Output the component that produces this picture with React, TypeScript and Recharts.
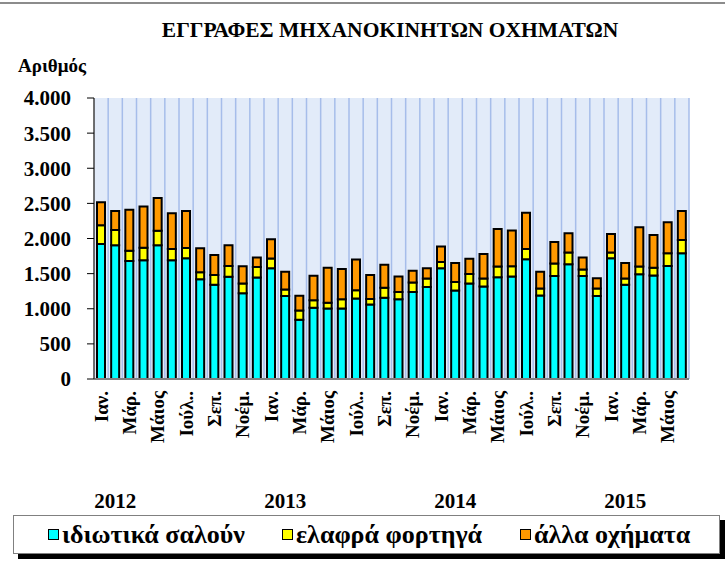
import { BarChart, Bar, XAxis, YAxis, CartesianGrid } from "recharts";

const months = ["Ιαν.", "Φεβ.", "Μάρ.", "Απρ.", "Μάιος", "Ιούν.", "Ιούλ..", "Αύγ.", "Σεπ.", "Οκτ.", "Νοέμ.", "Δεκ."];
const years = ["2012", "2013", "2014", "2015"];

// monthly registrations, Jan 2012 - Jun 2015
const saloons = [
  1920, 1905, 1680, 1690, 1905, 1690, 1720, 1420, 1340, 1455, 1220, 1445,
  1575, 1180, 845, 1015, 1005, 1005, 1145, 1060, 1155, 1135, 1240, 1310,
  1575, 1260, 1360, 1315, 1450, 1460, 1705, 1190, 1465, 1635, 1465, 1180,
  1720, 1340, 1490, 1475, 1610, 1790,
];
const lightTrucks = [
  270, 215, 145, 180, 205, 160, 145, 100, 140, 155, 140, 150,
  140, 95, 130, 105, 80, 130, 120, 80, 145, 105, 135, 120,
  90, 120, 135, 115, 150, 145, 145, 100, 180, 165, 95, 110,
  80, 90, 110, 110, 180, 190,
];
const others = [
  325, 270, 585, 585, 465, 510, 525, 340, 285, 295, 245, 135,
  275, 250, 210, 350, 500, 430, 435, 340, 325, 220, 165, 145,
  220, 270, 215, 350, 535, 510, 515, 235, 305, 275, 170, 145,
  265, 220, 560, 465, 440, 410,
];
const yTicks = [0, 500, 1000, 1500, 2000, 2500, 3000, 3500, 4000];

const seriesColors = { saloons: "#00ffff", light: "#ffff00", other: "#ff9900" };
const seriesNames = ["ιδιωτικά σαλούν", "ελαφρά φορτηγά", "άλλα οχήματα"];

const data = saloons.map((s, i) => ({
  month: months[i % 12],
  year: years[Math.floor(i / 12)],
  saloons: s,
  light: lightTrucks[i],
  other: others[i],
}));

const font = "Liberation Serif";

const fmt = (v: number) => {
  if (v < 1000) return String(v);
  const t = Math.floor(v / 1000);
  const r = String(v % 1000).padStart(3, "0");
  return `${t}.${r}`;
};

function MonthTick(props: any) {
  const { x, index } = props;
  const row = data[index];
  return (
    <g>
      {index % 2 === 0 && (
        <text
          x={0}
          y={0}
          dy="0.35em"
          transform={`translate(${x},391) rotate(-90)`}
          textAnchor="end"
          fontFamily={font}
          fontWeight="bold"
          fontSize={19}
          fill="#000"
        >
          {row.month}
        </text>
      )}
      {index % 12 === 1 && (
        <text x={x} y={508} textAnchor="middle" fontFamily={font} fontWeight="bold" fontSize={21} fill="#000">
          {row.year}
        </text>
      )}
    </g>
  );
}

const legendColors = [seriesColors.saloons, seriesColors.light, seriesColors.other];
const legendLeft = [34, 268, 506];

export default function App() {
  return (
    <div style={{ position: "absolute", left: 0, top: 0, width: 725, height: 562, background: "#fff", fontFamily: font }}>
      <div style={{ position: "absolute", left: 0, top: 2, width: 725, height: 0, borderTop: "2px solid #8c8c8c" }} />
      <div style={{ position: "absolute", left: 140, top: 18, width: 500, textAlign: "center", fontWeight: "bold", fontSize: 21.5, color: "#000" }}>
        ΕΓΓΡΑΦΕΣ ΜΗΧΑΝΟΚΙΝΗΤΩΝ ΟΧΗΜΑΤΩΝ
      </div>
      <div style={{ position: "absolute", left: 18, top: 55, fontWeight: "bold", fontSize: 19, color: "#000" }}>Αριθμός</div>

      <BarChart width={725} height={562} data={data} margin={{ top: 98, right: 36, bottom: 51, left: 0 }}>
        <CartesianGrid
          horizontal={false}
          fill="#e2ebf9"
          fillOpacity={1}
          stroke="#a6bdea"
          strokeWidth={1.5}
          verticalCoordinatesGenerator={({ offset }: any) =>
            data.map((_, i) => offset.left + ((i + 1) * offset.width) / data.length)
          }
        />
        <XAxis
          dataKey="month"
          interval={0}
          height={132}
          tick={<MonthTick />}
          tickLine={false}
          axisLine={{ stroke: "#808080", strokeWidth: 2 }}
        />
        <XAxis xAxisId="top" orientation="top" height={0} tick={false} tickLine={false} axisLine={{ stroke: "#808080", strokeWidth: 2 }} />
        <YAxis
          width={94}
          domain={[0, 4000]}
          ticks={yTicks}
          tickFormatter={fmt}
          tickSize={7}
          tickMargin={16}
          tick={{ fontFamily: font, fontWeight: "bold", fontSize: 21, fill: "#000" }}
          tickLine={{ stroke: "#000" }}
          axisLine={{ stroke: "#404040", strokeWidth: 1.5 }}
        />
        <YAxis yAxisId="r" orientation="right" width={0} tick={false} tickLine={false} axisLine={{ stroke: "#808080", strokeWidth: 2 }} />
        <Bar dataKey="saloons" stackId="a" fill={seriesColors.saloons} stroke="#000" strokeWidth={2} barSize={8} isAnimationActive={false} />
        <Bar dataKey="light" stackId="a" fill={seriesColors.light} stroke="#000" strokeWidth={2} barSize={8} isAnimationActive={false} />
        <Bar dataKey="other" stackId="a" fill={seriesColors.other} stroke="#000" strokeWidth={2} barSize={8} isAnimationActive={false} />
      </BarChart>

      <div
        style={{
          position: "absolute",
          left: 13,
          top: 515,
          width: 705,
          height: 37,
          border: "1px solid #808080",
          background: "#fff",
          boxShadow: "5px 5px 0 #000",
        }}
      >
        {seriesNames.map((n, i) => (
          <div key={n} style={{ position: "absolute", left: legendLeft[i], top: 2, height: 33, display: "flex", alignItems: "center", whiteSpace: "nowrap" }}>
            <span style={{ display: "inline-block", width: 9, height: 9, border: "1.5px solid #000", background: legendColors[i], marginRight: 3 }} />
            <span style={{ fontWeight: "bold", fontSize: 26, color: "#000", lineHeight: "33px" }}>{n}</span>
          </div>
        ))}
      </div>
    </div>
  );
}
